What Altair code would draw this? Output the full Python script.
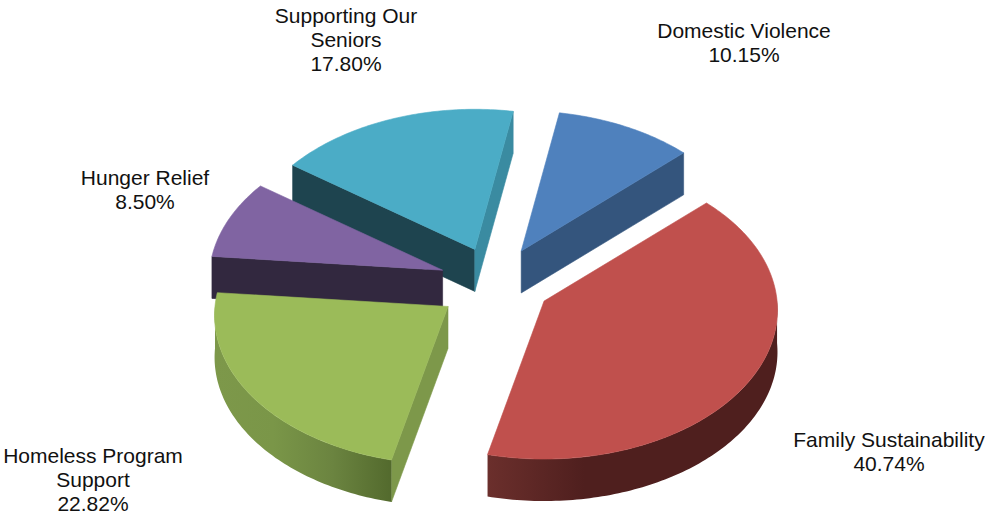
import math
import altair as alt
import pandas as pd

# Campaign allocation, in reading order clockwise from the first slice
categories = ["Domestic Violence", "Family Sustainability", "Homeless Program Support",
              "Hunger Relief", "Supporting Our Seniors"]
shares = [10.15, 40.74, 22.82, 8.50, 17.80]

# Wrapped label lines, with the share appended when the labels are built
label_lines = [["Domestic Violence"], ["Family Sustainability"], ["Homeless Program", "Support"],
               ["Hunger Relief"], ["Supporting Our", "Seniors"]]
label_anchor = [(744, 32), (889, 441), (93, 457), (145, 179), (346, 17)]

top_colors = ["#4f81bd", "#c0504d", "#9bbb59", "#8064a2", "#4bacc6"]
cut_colors = ["#34557d", "#34557d", "#7d984a", "#32283f", "#1e444f"]
far_cut_colors = ["#34557d", "#34557d", "#7d984a", "#32283f", "#3a8ba1"]
wall_stops = {
    1: ["#6b2f2c", "#4f1f1e", "#4f1f1e", "#4f1f1e"],
    2: ["#7d984a", "#7a9648", "#6b8440", "#536a2d"],
}
# Slices are painted from the back of the pie to the front
paint_order = [4, 0, 3, 2, 1]

CX, CY = 497.0, 282.0      # pie centre
RX, RY = 233.0, 148.5      # disc radii on the page
DEPTH = 42.0               # thickness of the disc
EXPLODE = 0.25             # radial pull of each slice, as a fraction of the radius
PERSPECTIVE = 0.06         # far side of the disc shrinks by this factor
START_ANGLE = 10.0         # first slice boundary, degrees clockwise from 12 o'clock
SLICE_SHIFT_X = [-2.0, -5.0, 0.0, -1.0, -1.5]  # fine placement of each slice
SLICE_SHIFT_Y = [0.0, 0.0, 2.0, 1.0, 0.0]


def rim(angle, apex, drop=0.0):
    """Page position of a rim point for a slice whose tip sits at apex."""
    t = math.radians(angle)
    depth_axis = math.cos(t)
    s = 1.0 / (1.0 + PERSPECTIVE * depth_axis)
    return apex[0] + RX * math.sin(t) * s, apex[1] - RY * depth_axis * s + drop


def arc(a0, a1, apex, drop=0.0):
    steps = max(2, int(abs(a1 - a0)) + 1)
    return [rim(a0 + (a1 - a0) * i / steps, apex, drop) for i in range(steps + 1)]


def piece_chart(points, fill):
    frame = pd.DataFrame({"px": [p[0] for p in points] + [points[0][0]],
                          "py": [p[1] for p in points] + [points[0][1]]})
    frame["seq"] = range(len(frame))
    stroke = fill if isinstance(fill, str) else None
    kwargs = {"stroke": stroke} if stroke else {"strokeOpacity": 0}
    return alt.Chart(frame).mark_line(fill=fill, filled=True, strokeWidth=0.6, **kwargs).encode(
        x=alt.X("px:Q", scale=alt.Scale(domain=[0, 985]), axis=None),
        y=alt.Y("py:Q", scale=alt.Scale(domain=[514, 0]), axis=None),
        order="seq:Q",
    )


bounds = [START_ANGLE]
for share in shares:
    bounds.append(bounds[-1] + share * 3.6)

layers = []
for i in paint_order:
    a0, a1 = bounds[i], bounds[i + 1]
    mid = math.radians((a0 + a1) / 2)
    scale_y = 1.0 / (1.0 + PERSPECTIVE * math.cos(mid))
    apex = (CX + SLICE_SHIFT_X[i] + EXPLODE * RX * math.sin(mid) * scale_y,
            CY + SLICE_SHIFT_Y[i] - EXPLODE * RY * math.cos(mid) * scale_y)

    # Straight cut faces: only those turned toward the viewer are drawn
    if math.sin(math.radians(a0)) < 0:
        p = rim(a0, apex)
        layers.append(piece_chart([apex, p, (p[0], p[1] + DEPTH), (apex[0], apex[1] + DEPTH)], cut_colors[i]))
    if math.sin(math.radians(a1)) > 0:
        p = rim(a1, apex)
        layers.append(piece_chart([apex, p, (p[0], p[1] + DEPTH), (apex[0], apex[1] + DEPTH)], far_cut_colors[i]))

    # Curved outer wall on the near half of the disc
    w0, w1 = max(a0, 90.0), min(a1, 270.0)
    if w0 < w1:
        stops = wall_stops[i]
        gradient = alt.Gradient(
            gradient="linear", x1=0, x2=1, y1=0, y2=0,
            stops=[alt.GradientStop(color=c, offset=k / (len(stops) - 1)) for k, c in enumerate(stops)],
        )
        layers.append(piece_chart(arc(w0, w1, apex) + arc(w1, w0, apex, DEPTH), gradient))

    # Top face
    layers.append(piece_chart([apex] + arc(a0, a1, apex), top_colors[i]))

# Category names with their shares, line by line
rows = []
for i, lines in enumerate(label_lines):
    full = lines + [f"{shares[i]:.2f}%"]
    x0, y0 = label_anchor[i]
    for k, line in enumerate(full):
        rows.append({"px": x0, "py": y0 + k * 24.0, "line": line})

labels = alt.Chart(pd.DataFrame(rows)).mark_text(
    font="Liberation Sans", fontSize=21, color="#111111", align="center", baseline="middle"
).encode(
    x=alt.X("px:Q", scale=alt.Scale(domain=[0, 985]), axis=None),
    y=alt.Y("py:Q", scale=alt.Scale(domain=[514, 0]), axis=None),
    text="line:N",
)

chart = alt.layer(*layers, labels).properties(
    width=985, height=514, padding=0, autosize=alt.AutoSizeParams(type="none"),
    background="white",
).configure_view(stroke=None)

chart.save("out.html", embed_options={"renderer": "svg", "actions": False})
